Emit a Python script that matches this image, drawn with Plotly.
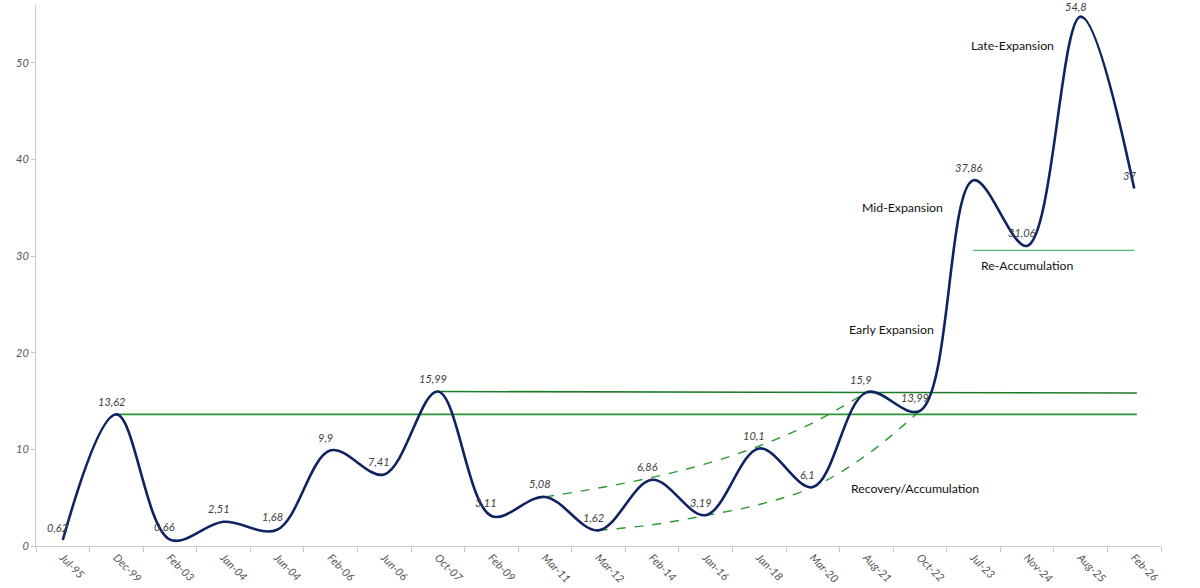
import plotly.graph_objects as go

categories = ["Jul-95", "Dec-99", "Feb-03", "Jan-04", "Jun-04", "Feb-06", "Jun-06", "Oct-07",
              "Feb-09", "Mar-11", "Mar-12", "Feb-14", "Jan-16", "Jan-18", "Mar-20", "Aug-21",
              "Oct-22", "Jul-23", "Nov-24", "Aug-25", "Feb-26"]
values = [0.62, 13.62, 0.66, 2.51, 1.68, 9.9, 7.41, 15.99, 3.11, 5.08, 1.62, 6.86, 3.19,
          10.1, 6.1, 15.9, 13.99, 37.86, 31.06, 54.8, 37]
value_labels = ["0,62", "13,62", "0,66", "2,51", "1,68", "9,9", "7,41", "15,99", "3,11", "5,08",
                "1,62", "6,86", "3,19", "10,1", "6,1", "15,9", "13,99", "37,86", "31,06", "54,8", "37"]

# Channel guide curves (dashed)
upper_x = [9, 10, 11, 12, 13, 14, 15]
upper_y = [5.08, 6.0, 7.1, 8.5, 10.35, 12.75, 15.9]
lower_x = [10, 11, 12, 13, 14, 15, 16]
lower_y = [1.62, 2.2, 3.15, 4.3, 6.1, 9.4, 13.99]

# Horizontal support lines
support1_x = [1, 20.05]
support1_y = [13.62, 13.62]
support2_x = [7, 20.05]
support2_y = [15.99, 15.84]
reacc_x = [16.99, 20.0]
reacc_y = [30.6, 30.6]

phase_text = ["Late-Expansion", "Mid-Expansion", "Re-Accumulation", "Early Expansion", "Recovery/Accumulation"]
phase_x = [17.73, 15.68, 18.0, 15.46, 15.91]
phase_y = [51.8, 35.0, 29.0, 22.4, 5.95]

xi = list(range(len(categories)))
FONT = "Lato, Open Sans, sans-serif"

fig = go.Figure()
fig.add_trace(go.Scatter(x=support1_x, y=support1_y, mode="lines",
                         line=dict(color="#2a9436", width=1.6), hoverinfo="skip"))
fig.add_trace(go.Scatter(x=support2_x, y=support2_y, mode="lines",
                         line=dict(color="#1f7a26", width=1.6), hoverinfo="skip"))
fig.add_trace(go.Scatter(x=reacc_x, y=reacc_y, mode="lines",
                         line=dict(color="#4cc072", width=1.1), hoverinfo="skip"))
fig.add_trace(go.Scatter(x=upper_x, y=upper_y, mode="lines", line_shape="spline",
                         line=dict(color="#2a9a32", width=1.4, dash="dash"), hoverinfo="skip"))
fig.add_trace(go.Scatter(x=lower_x, y=lower_y, mode="lines", line_shape="spline",
                         line=dict(color="#2a9a32", width=1.4, dash="dash"), hoverinfo="skip"))
fig.add_trace(go.Scatter(x=xi, y=values, mode="lines", line_shape="spline",
                         line=dict(color="#0f2262", width=2.6, smoothing=1.0)))

annotations = []
for i, (v, t) in enumerate(zip(values, value_labels)):
    ys = 13 if v < 50 else 10
    annotations.append(dict(x=i, y=v, text="<i>" + t + "</i>", showarrow=False, xshift=-5, yshift=ys,
                            font=dict(family=FONT, size=11, color="#404040"),
                            xref="x", yref="y"))
for t, px, py in zip(phase_text, phase_x, phase_y):
    annotations.append(dict(x=px, y=py, text=t, showarrow=False,
                            font=dict(family=FONT, size=12.3, color="#111111"),
                            xref="x", yref="y"))

fig.update_layout(
    width=1200, height=588,
    margin=dict(l=35.6, r=39.4, t=5, b=41.5),
    plot_bgcolor="white", paper_bgcolor="white",
    showlegend=False,
    annotations=annotations,
    xaxis=dict(
        range=[-0.5, 20.5], automargin=False,
        tickmode="array", tickvals=xi, ticktext=["<i>" + c + "</i>" for c in categories],
        tickangle=45, ticks="",
        tickfont=dict(family=FONT, size=11, color="#555555"),
        showgrid=False, zeroline=False,
        showline=True, linecolor="#c8c8c8", linewidth=1,
        minor=dict(tick0=-0.5, dtick=1, ticks="outside", ticklen=5, tickcolor="#c8c8c8", showgrid=False),
    ),
    yaxis=dict(
        range=[0, 56], automargin=False,
        tickmode="array", tickvals=[0, 10, 20, 30, 40, 50],
        ticktext=["<i>%d</i>" % v for v in [0, 10, 20, 30, 40, 50]],
        ticks="outside", ticklen=4, tickcolor="#c8c8c8",
        tickfont=dict(family=FONT, size=11, color="#555555"),
        showgrid=False, zeroline=False,
        showline=True, linecolor="#c8c8c8", linewidth=1,
    ),
)

fig.write_html("out.html")
